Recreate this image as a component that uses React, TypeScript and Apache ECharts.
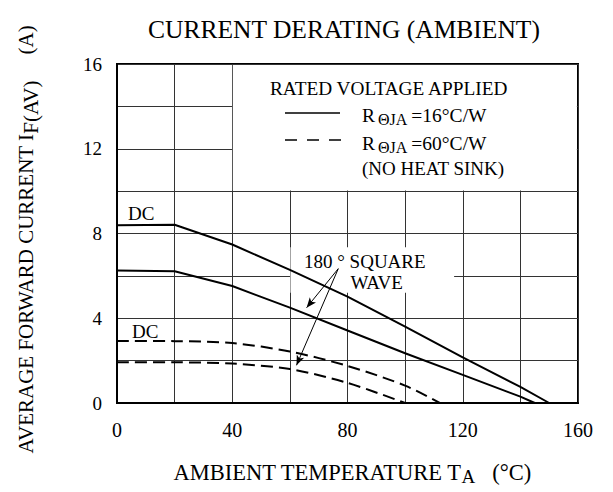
import React, { useEffect, useRef } from "react";
import * as echarts from "echarts";

const FONT = '"Liberation Serif", "Times New Roman", serif';

// Tick values shown on the axes
const xTickLabels = [0, 40, 80, 120, 160];
const yTickLabels = [0, 4, 8, 12, 16];

// Curves: [ambient temperature °C, average forward current A]
const dc16: number[][] = [[0, 8.39], [20, 8.41], [40, 7.48], [60, 6.28], [80, 5.02], [100, 3.6], [120, 2.15], [140, 0.76], [150, 0]];
const square16: number[][] = [[0, 6.25], [20, 6.22], [40, 5.52], [60, 4.5], [80, 3.42], [100, 2.35], [120, 1.33], [140, 0.3], [145, 0]];
const dc60: number[][] = [[0, 2.93], [20, 2.92], [40, 2.83], [60, 2.43], [80, 1.75], [100, 0.82], [112, 0]];
const square60: number[][] = [[0, 1.92], [20, 1.92], [40, 1.86], [60, 1.6], [80, 0.95], [100, 0]];

// Annotation arrows (data coordinates)
const arrowFrom = [76.8, 6.34];
const arrowTargets: number[][] = [[65.8, 4.5], [62.3, 1.78]];

// White areas (legend box and label box) in data coordinates
const legendBox: number[][] = [[40.2, 10.03], [159.6, 15.95]];
const labelBox: number[][] = [[60.2, 5.2], [117, 7.35]];

export default function App() {
  const ref = useRef<HTMLDivElement>(null);

  useEffect(() => {
    if (!ref.current) return;
    const chart = echarts.init(ref.current, undefined, { renderer: "svg" });

    const curveLine = (name: string, data: number[][], dashed: boolean) => ({
      name,
      type: "line",
      data,
      symbol: "none",
      smooth: dashed ? 0.3 : false,
      z: 3,
      lineStyle: { color: "#000", width: 2, type: dashed ? [12, 6] : "solid" },
      silent: true,
    });

    const sub = (size: number) => ({ fontSize: size, fontFamily: FONT, color: "#000", verticalAlign: "bottom" as const });
    const main = (size: number, lh: number) => ({ fontSize: size, fontFamily: FONT, color: "#000", lineHeight: lh });

    const option: any = {
      animation: false,
      backgroundColor: "#fff",
      title: {
        text: "CURRENT DERATING (AMBIENT)",
        left: 143,
        top: 11,
        textStyle: { fontFamily: FONT, fontSize: 25.5, fontWeight: "normal", color: "#000" },
      },
      grid: {
        left: 117,
        top: 64,
        width: 461,
        height: 339,
        show: true,
        borderColor: "#000",
        borderWidth: 2,
      },
      xAxis: {
        type: "value",
        min: 0,
        max: 160,
        interval: 20,
        axisLine: { show: true, lineStyle: { color: "#000", width: 2 } },
        axisTick: { show: false },
        axisLabel: {
          margin: 17,
          color: "#000",
          fontFamily: FONT,
          fontSize: 20,
          formatter: (v: number) => (xTickLabels.includes(v) ? String(v) : ""),
        },
        splitLine: { show: true, lineStyle: { color: "#333", width: 1 } },
        name: "{m|AMBIENT TEMPERATURE T}{s|A}{p|(°C)}",
        nameLocation: "middle",
        nameGap: 55,
        nameTextStyle: {
          rich: {
            m: { ...main(22.5, 28), padding: [0, 0, 0, 9] },
            s: sub(19),
            p: { ...main(22.5, 28), padding: [0, 0, 0, 17] },
          },
        },
      },
      yAxis: {
        type: "value",
        min: 0,
        max: 16,
        interval: 2,
        axisLine: { show: true, lineStyle: { color: "#000", width: 2 } },
        axisTick: { show: false },
        axisLabel: {
          margin: 15,
          color: "#000",
          fontFamily: FONT,
          fontSize: 19,
          formatter: (v: number) => (yTickLabels.includes(v) ? String(v) : ""),
        },
        splitLine: { show: true, lineStyle: { color: "#333", width: 1 } },
        name: "{m|AVERAGE FORWARD CURRENT I}{s|F(AV)}{p|(A)}",
        nameLocation: "middle",
        nameGap: 76,
        nameTextStyle: {
          rich: {
            m: main(21, 30),
            s: sub(21),
            p: { ...main(21, 30), padding: [0, 12, 0, 26] },
          },
        },
      },
      series: [
        {
          name: "background",
          type: "line",
          data: [],
          z: 1,
          silent: true,
          markArea: {
            silent: true,
            itemStyle: { color: "#fff", opacity: 1, borderWidth: 0 },
            label: { show: false },
            data: [
              [{ coord: legendBox[0] }, { coord: legendBox[1] }],
              [{ coord: labelBox[0] }, { coord: labelBox[1] }],
            ],
          },
        },
        curveLine("DC, RθJA=16°C/W", dc16, false),
        curveLine("180° square wave, RθJA=16°C/W", square16, false),
        curveLine("DC, RθJA=60°C/W", dc60, true),
        curveLine("180° square wave, RθJA=60°C/W", square60, true),
        {
          name: "arrows",
          type: "line",
          data: [],
          z: 4,
          silent: true,
          markLine: {
            silent: true,
            symbolSize: [6, 10],
            lineStyle: { color: "#000", width: 1, type: "solid" },
            label: { show: false },
            data: arrowTargets.map((t) => [
              { coord: arrowFrom, symbol: "none" },
              { coord: t, symbol: "arrow" },
            ]),
          },
        },
      ],
      graphic: [
        {
          type: "text", x: 270, y: 88, z: 10,
          style: { text: "RATED VOLTAGE APPLIED", font: `19.3px ${FONT}`, fill: "#000", align: "left", verticalAlign: "middle" },
        },
        {
          type: "line", z: 10,
          shape: { x1: 285, y1: 113, x2: 340, y2: 113 },
          style: { stroke: "#000", lineWidth: 1.5 },
        },
        {
          type: "line", z: 10,
          shape: { x1: 285, y1: 140, x2: 342, y2: 140 },
          style: { stroke: "#000", lineWidth: 1.5, lineDash: [12, 10] },
        },
        {
          type: "text", x: 362, y: 115, z: 10,
          style: {
            text: "{r|R}{s|ΘJA}{r|=16°C/W}",
            align: "left",
            verticalAlign: "middle",
            rich: { r: main(19.5, 24), s: { ...sub(16), padding: [0, 4, 0, 3] } },
          },
        },
        {
          type: "text", x: 362, y: 143, z: 10,
          style: {
            text: "{r|R}{s|ΘJA}{r|=60°C/W}",
            align: "left",
            verticalAlign: "middle",
            rich: { r: main(19.5, 24), s: { ...sub(16), padding: [0, 4, 0, 3] } },
          },
        },
        {
          type: "text", x: 362, y: 168, z: 10,
          style: { text: "(NO HEAT SINK)", font: `19px ${FONT}`, fill: "#000", align: "left", verticalAlign: "middle" },
        },
        {
          type: "text", x: 128, y: 213, z: 10,
          style: { text: "DC", font: `19px ${FONT}`, fill: "#000", align: "left", verticalAlign: "middle" },
        },
        {
          type: "text", x: 132, y: 331, z: 10,
          style: { text: "DC", font: `19px ${FONT}`, fill: "#000", align: "left", verticalAlign: "middle" },
        },
        {
          type: "text", x: 304, y: 261, z: 10,
          style: { text: "180 ° SQUARE", font: `19px ${FONT}`, fill: "#000", align: "left", verticalAlign: "middle" },
        },
        {
          type: "text", x: 350.5, y: 282, z: 10,
          style: { text: "WAVE", font: `19px ${FONT}`, fill: "#000", align: "left", verticalAlign: "middle" },
        },
      ],
    };

    chart.setOption(option);
    return () => chart.dispose();
  }, []);

  return (
    <div
      ref={ref}
      style={{ position: "fixed", left: 0, top: 0, width: 613, height: 492 }}
    />
  );
}
